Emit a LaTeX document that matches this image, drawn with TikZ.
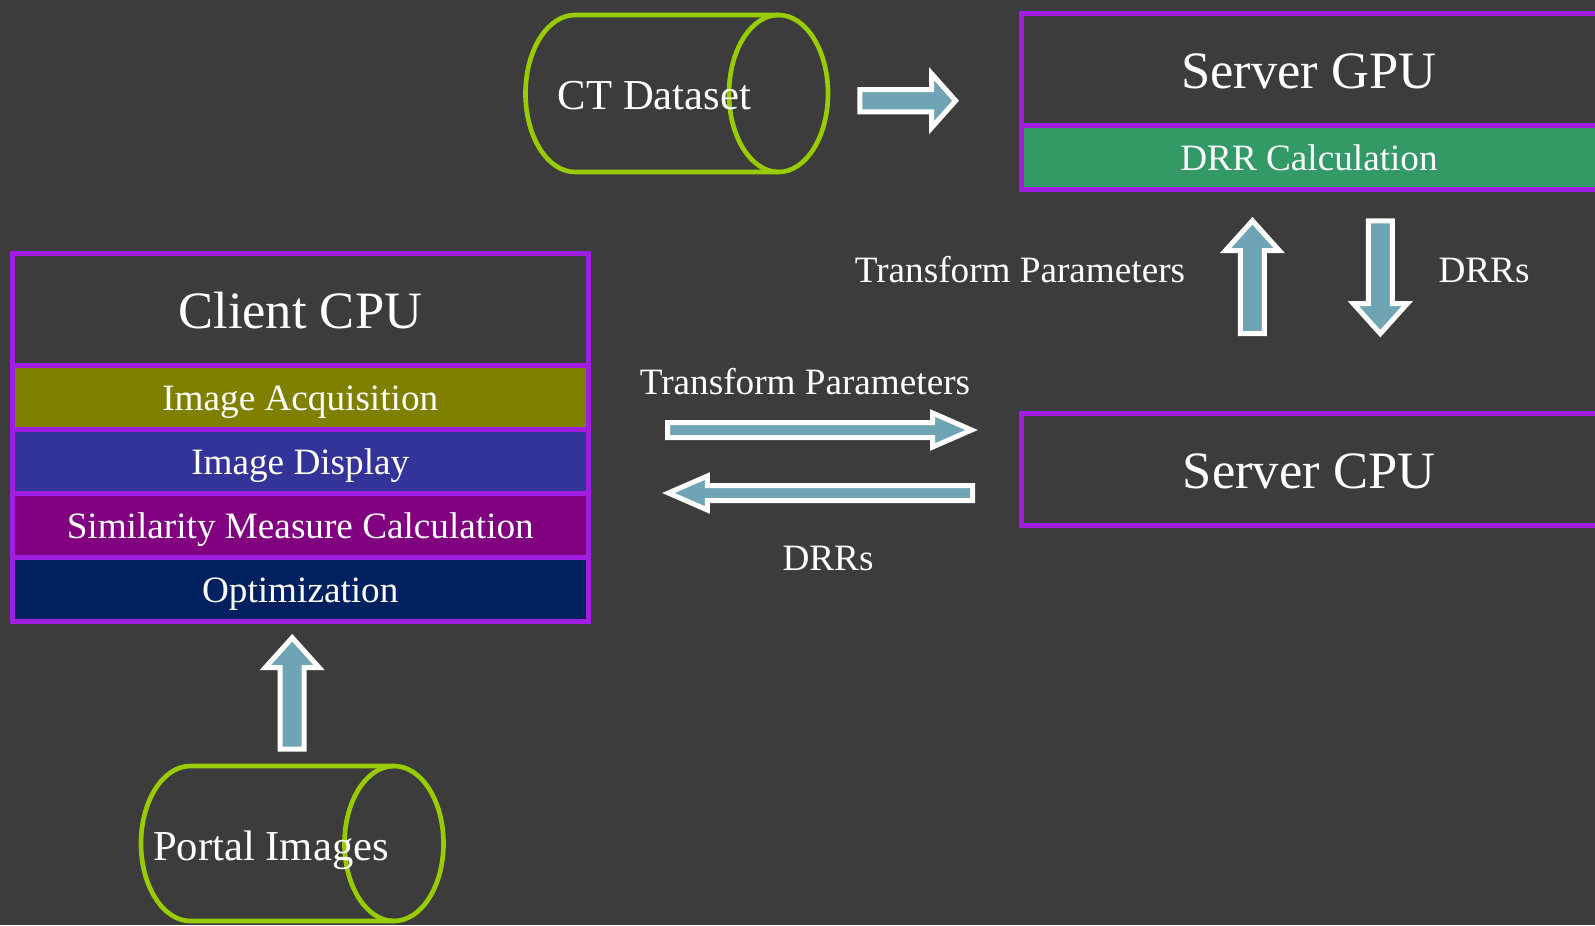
\documentclass[tikz,border=0pt]{standalone}
\usepackage{fontspec}
\setmainfont{Liberation Serif}
\usetikzlibrary{calc}
\definecolor{bgc}{RGB}{60,60,60}
\definecolor{violetb}{RGB}{160,30,225}
\definecolor{drumg}{RGB}{153,204,0}
\definecolor{arrowf}{RGB}{111,164,180}
\definecolor{olivef}{RGB}{128,128,0}
\definecolor{bluef}{RGB}{51,51,153}
\definecolor{purplef}{RGB}{128,0,128}
\definecolor{navyf}{RGB}{0,32,96}
\definecolor{greenf}{RGB}{51,153,102}
\newcommand\pxu{0.75pt}
\newcommand\drum[5]{%
  \draw[drum] (#2,#3+#5) -- (#1,#3+#5) arc[start angle=90,end angle=270,x radius=#4,y radius=#5] -- (#2,#3-#5);
  \draw[drum] (#2,#3) ellipse[x radius=#4,y radius=#5];}
\newcommand\barrow[5]{%
  \coordinate (hb) at ($(#2)!#5!(#1)$);
  \draw[blockarrow] ($(#1)!#3!90:(#2)$) -- ($(hb)!#3!90:(#2)$) -- ($(hb)!#4!90:(#2)$) -- (#2)
    -- ($(hb)!#4!-90:(#2)$) -- ($(hb)!#3!-90:(#2)$) -- ($(#1)!#3!-90:(#2)$) -- cycle;}
\tikzset{
  drum/.style={draw=drumg,line width=3.5pt},
  blockarrow/.style={draw=white,fill=arrowf,line width=3.75pt,line join=miter},
  row/.style={draw=violetb,line width=3.75pt,rectangle,anchor=north west,outer sep=0pt,inner sep=0pt,
    text=white,text depth=0pt},
  bigrow/.style={row,font=\fontsize{39.4pt}{42pt}\selectfont,text height=29pt},
  smallrow/.style={row,font=\fontsize{27.9pt}{30pt}\selectfont,text height=20.6pt},
  lbl/.style={text=white,anchor=base,inner sep=0pt,font=\fontsize{27.9pt}{30pt}\selectfont},
  drumlbl/.style={text=white,anchor=base,inner sep=0pt,font=\fontsize{32pt}{34pt}\selectfont},
}
\begin{document}
\begin{tikzpicture}[x=0.75pt,y=0.75pt]
\fill[bgc] (0,0) rectangle (1595,-925);
\useasboundingbox (0,0) rectangle (1595,-925);
\clip (0,0) rectangle (1595,-925);

% cylinders
\drum{575}{778.5}{-93.5}{49.5}{78.5}
\node[drumlbl] (ct) at (654.5,-109) {CT Dataset};
\drum{190.5}{394}{-843.5}{49.5}{77.5}
\node[drumlbl] (portal) at (271,-860) {Portal Images};

% client CPU
\node[bigrow,fill=bgc,minimum width=575.5*\pxu,minimum height=112*\pxu] (client) at (12.5,-253.5) {Client CPU};
\node[smallrow,fill=olivef,minimum width=575.5*\pxu,minimum height=63.5*\pxu] (acq) at (12.5,-365.5) {Image Acquisition};
\node[smallrow,fill=bluef,minimum width=575.5*\pxu,minimum height=64*\pxu] (disp) at (12.5,-429) {Image Display};
\node[smallrow,fill=purplef,minimum width=575.5*\pxu,minimum height=64*\pxu] (sim) at (12.5,-493) {Similarity Measure Calculation};
\node[smallrow,fill=navyf,minimum width=575.5*\pxu,minimum height=64.5*\pxu] (opt) at (12.5,-557) {Optimization};

% server GPU
\node[bigrow,fill=bgc,minimum width=576*\pxu,minimum height=111.5*\pxu] (gpu) at (1021,-13.5) {Server GPU};
\node[smallrow,fill=greenf,minimum width=576*\pxu,minimum height=64*\pxu] (drr) at (1021,-125) {DRR Calculation};

% server CPU
\node[bigrow,fill=bgc,minimum width=576*\pxu,minimum height=112*\pxu] (scpu) at (1021,-413) {Server CPU};

% labels
\node[lbl] (tp1) at (805,-394) {Transform Parameters};
\node[lbl] (drrs1) at (828,-570.5) {DRRs};
\node[lbl] (tp2) at (1020,-282) {Transform Parameters};
\node[lbl] (drrs2) at (1484,-282) {DRRs};

% arrow end points
\coordinate (a1t) at (859.8,-100.7);  \coordinate (a1h) at (955.6,-100.7);
\coordinate (a2t) at (667.5,-430);    \coordinate (a2h) at (971.6,-430);
\coordinate (a3t) at (972.5,-493);    \coordinate (a3h) at (668.4,-493);
\coordinate (a4t) at (1252.4,-333.5); \coordinate (a4h) at (1252.4,-220.7);
\coordinate (a5t) at (1380.3,-220.8); \coordinate (a5h) at (1380.3,-333.6);
\coordinate (a6t) at (292.2,-749.2);  \coordinate (a6h) at (292.2,-637.7);

\barrow{a1t}{a1h}{8.4pt}{20.25pt}{18pt}
\barrow{a2t}{a2h}{5.625pt}{12.75pt}{29.25pt}
\barrow{a3t}{a3h}{5.625pt}{12.75pt}{29.25pt}
\barrow{a4t}{a4h}{9pt}{20.25pt}{22.5pt}
\barrow{a5t}{a5h}{9pt}{20.25pt}{22.5pt}
\barrow{a6t}{a6h}{9pt}{20.25pt}{22.5pt}
\end{tikzpicture}
\end{document}
